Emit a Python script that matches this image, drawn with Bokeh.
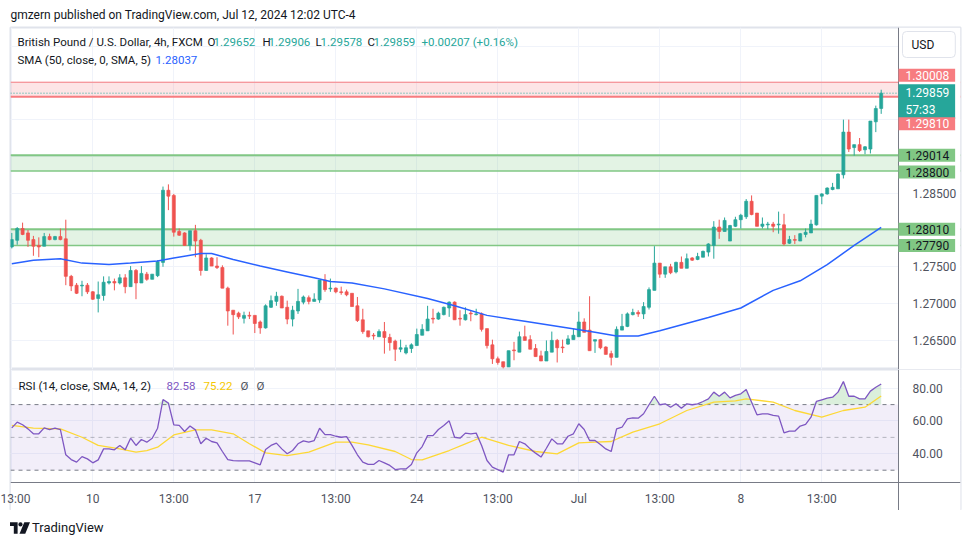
import numpy as np
from bokeh.plotting import figure
from bokeh.layouts import column
from bokeh.models import (Range1d, FixedTicker, NumeralTickFormatter, BoxAnnotation,
                          Span, Label, ColumnDataSource, Div)
from bokeh.embed import file_html
from bokeh.resources import INLINE

# ---------------- data (GBPUSD 4h, FXCM) ----------------
opens = [1.2777, 1.2786, 1.2802, 1.2796, 1.2787, 1.2779, 1.2778, 1.2791, 1.2787, 1.2791,
         1.2788, 1.2737, 1.2725, 1.2724, 1.2725, 1.2716, 1.2707, 1.2711, 1.2728, 1.2730,
         1.2728, 1.2735, 1.2723, 1.2745, 1.2728, 1.2740, 1.2733, 1.2738, 1.2756, 1.2854,
         1.2847, 1.2798, 1.2796, 1.2779, 1.2799, 1.2786, 1.2745, 1.2762, 1.2751, 1.2749,
         1.2721, 1.2691, 1.2687, 1.2680, 1.2684, 1.2684, 1.2675, 1.2667, 1.2695, 1.2703,
         1.2710, 1.2695, 1.2679, 1.2690, 1.2702, 1.2708, 1.2703, 1.2705, 1.2732, 1.2720,
         1.2721, 1.2716, 1.2716, 1.2714, 1.2697, 1.2678, 1.2663, 1.2657, 1.2655, 1.2662,
         1.2654, 1.2649, 1.2638, 1.2633, 1.2639, 1.2643, 1.2657, 1.2663, 1.2680, 1.2679,
         1.2685, 1.2694, 1.2702, 1.2680, 1.2678, 1.2687, 1.2685, 1.2686, 1.2666, 1.2644,
         1.2625, 1.2621, 1.2614, 1.2637, 1.2634, 1.2655, 1.2651, 1.2639, 1.2629, 1.2622,
         1.2634, 1.2650, 1.2641, 1.2645, 1.2651, 1.2655, 1.2675, 1.2664, 1.2649, 1.2651,
         1.2641, 1.2632, 1.2627, 1.2664, 1.2669, 1.2685, 1.2688, 1.2686, 1.2695, 1.2718,
         1.2755, 1.2740, 1.2750, 1.2743, 1.2756, 1.2748, 1.2762, 1.2760, 1.2763, 1.2770,
         1.2779, 1.2804, 1.2798, 1.2785, 1.2805, 1.2814, 1.2818, 1.2839, 1.2823, 1.2805,
         1.2807, 1.2808, 1.2807, 1.2807, 1.2782, 1.2787, 1.2785, 1.2794, 1.2796, 1.2807,
         1.2846, 1.2849, 1.2855, 1.2856, 1.2875, 1.2933, 1.2912, 1.2916, 1.2909, 1.2910,
         1.2947, 1.29652]
highs = [1.2796, 1.2804, 1.2810, 1.2800, 1.2792, 1.2790, 1.2796, 1.2795, 1.2792, 1.2802,
         1.2814, 1.2739, 1.2728, 1.2731, 1.2728, 1.2717, 1.2730, 1.2737, 1.2737, 1.2734,
         1.2740, 1.2740, 1.2751, 1.2747, 1.2751, 1.2743, 1.2740, 1.2759, 1.2859, 1.2862,
         1.2849, 1.2802, 1.2797, 1.2799, 1.2807, 1.2788, 1.2767, 1.2763, 1.2763, 1.2752,
         1.2723, 1.2691, 1.2689, 1.2689, 1.2689, 1.2684, 1.2677, 1.2699, 1.2711, 1.2716,
         1.2711, 1.2704, 1.2697, 1.2720, 1.2711, 1.2711, 1.2714, 1.2732, 1.2740, 1.2734,
         1.2722, 1.2723, 1.2719, 1.2714, 1.2709, 1.2693, 1.2663, 1.2660, 1.2665, 1.2675,
         1.2659, 1.2651, 1.2651, 1.2644, 1.2646, 1.2666, 1.2672, 1.2697, 1.2693, 1.2689,
         1.2696, 1.2703, 1.2703, 1.2691, 1.2695, 1.2690, 1.2693, 1.2688, 1.2666, 1.2651,
         1.2628, 1.2621, 1.2636, 1.2648, 1.2662, 1.2670, 1.2657, 1.2645, 1.2636, 1.2650,
         1.2662, 1.2652, 1.2651, 1.2657, 1.2666, 1.2689, 1.2680, 1.2710, 1.2651, 1.2652,
         1.2642, 1.2636, 1.2669, 1.2686, 1.2688, 1.2693, 1.2691, 1.2702, 1.2722, 1.2778,
         1.2755, 1.2750, 1.2754, 1.2757, 1.2764, 1.2768, 1.2763, 1.2769, 1.2772, 1.2782,
         1.2812, 1.2814, 1.2817, 1.2807, 1.2818, 1.2822, 1.2842, 1.2847, 1.2823, 1.2817,
         1.2811, 1.2811, 1.2825, 1.2822, 1.2792, 1.2793, 1.2796, 1.2802, 1.2814, 1.2847,
         1.2850, 1.2858, 1.2864, 1.2877, 1.2950, 1.2950, 1.2916, 1.2925, 1.2914, 1.2948,
         1.2969, 1.29906]
lows = [1.2775, 1.2780, 1.2793, 1.2777, 1.2765, 1.2763, 1.2778, 1.2786, 1.2786, 1.2786,
        1.2725, 1.2717, 1.2713, 1.2710, 1.2713, 1.2705, 1.2688, 1.2704, 1.2726, 1.2718,
        1.2726, 1.2714, 1.2723, 1.2706, 1.2728, 1.2731, 1.2733, 1.2736, 1.2750, 1.2827,
        1.2791, 1.2792, 1.2779, 1.2772, 1.2763, 1.2738, 1.2745, 1.2751, 1.2747, 1.2721,
        1.2670, 1.2658, 1.2679, 1.2673, 1.2679, 1.2660, 1.2659, 1.2666, 1.2694, 1.2697,
        1.2694, 1.2672, 1.2669, 1.2686, 1.2699, 1.2699, 1.2703, 1.2701, 1.2716, 1.2716,
        1.2714, 1.2712, 1.2710, 1.2696, 1.2675, 1.2659, 1.2654, 1.2651, 1.2655, 1.2632,
        1.2636, 1.2622, 1.2634, 1.2631, 1.2633, 1.2643, 1.2657, 1.2663, 1.2673, 1.2678,
        1.2684, 1.2682, 1.2678, 1.2670, 1.2677, 1.2676, 1.2684, 1.2662, 1.2639, 1.2618,
        1.2617, 1.2612, 1.2614, 1.2623, 1.2634, 1.2650, 1.2638, 1.2628, 1.2622, 1.2622,
        1.2634, 1.2620, 1.2633, 1.2644, 1.2651, 1.2655, 1.2661, 1.2636, 1.2633, 1.2638,
        1.2631, 1.2616, 1.2627, 1.2664, 1.2668, 1.2684, 1.2682, 1.2679, 1.2692, 1.2718,
        1.2735, 1.2735, 1.2740, 1.2741, 1.2748, 1.2748, 1.2758, 1.2759, 1.2763, 1.2764,
        1.2761, 1.2788, 1.2798, 1.2785, 1.2804, 1.2802, 1.2815, 1.2820, 1.2805, 1.2802,
        1.2801, 1.2797, 1.2795, 1.2779, 1.2781, 1.2781, 1.2785, 1.2790, 1.2796, 1.2806,
        1.2835, 1.2848, 1.2854, 1.2856, 1.2870, 1.2906, 1.2901, 1.2906, 1.2903, 1.2904,
        1.2933, 1.29578]
closes = [1.2787, 1.2802, 1.2794, 1.2786, 1.2778, 1.2777, 1.2791, 1.2787, 1.2791, 1.2787,
          1.2737, 1.2724, 1.2714, 1.2725, 1.2716, 1.2706, 1.2712, 1.2729, 1.2730, 1.2728,
          1.2735, 1.2723, 1.2745, 1.2728, 1.2741, 1.2733, 1.2740, 1.2757, 1.2854, 1.2846,
          1.2797, 1.2793, 1.2779, 1.2799, 1.2785, 1.2745, 1.2762, 1.2751, 1.2749, 1.2721,
          1.2690, 1.2685, 1.2682, 1.2684, 1.2683, 1.2673, 1.2667, 1.2697, 1.2704, 1.2710,
          1.2694, 1.2679, 1.2691, 1.2703, 1.2709, 1.2703, 1.2706, 1.2732, 1.2719, 1.2721,
          1.2716, 1.2715, 1.2712, 1.2696, 1.2677, 1.2662, 1.2655, 1.2656, 1.2662, 1.2654,
          1.2647, 1.2638, 1.2640, 1.2640, 1.2644, 1.2658, 1.2665, 1.2679, 1.2679, 1.2687,
          1.2695, 1.2702, 1.2678, 1.2679, 1.2685, 1.2686, 1.2686, 1.2665, 1.2643, 1.2625,
          1.2620, 1.2614, 1.2636, 1.2636, 1.2655, 1.2650, 1.2638, 1.2628, 1.2622, 1.2635,
          1.2650, 1.2640, 1.2640, 1.2652, 1.2657, 1.2675, 1.2661, 1.2636, 1.2651, 1.2640,
          1.2631, 1.2627, 1.2665, 1.2669, 1.2686, 1.2688, 1.2686, 1.2696, 1.2719, 1.2755,
          1.2740, 1.2750, 1.2742, 1.2756, 1.2748, 1.2761, 1.2759, 1.2764, 1.2771, 1.2781,
          1.2804, 1.2798, 1.2813, 1.2806, 1.2814, 1.2820, 1.2839, 1.2821, 1.2805, 1.2808,
          1.2808, 1.2805, 1.2808, 1.2781, 1.2787, 1.2786, 1.2795, 1.2797, 1.2808, 1.2847,
          1.2849, 1.2857, 1.2858, 1.2876, 1.2933, 1.2910, 1.2916, 1.2908, 1.2913, 1.2948,
          1.2965, 1.29859]

# SMA(50) read at sample bars
sma_bars = [0, 4, 9, 13, 18, 22, 27, 30, 35, 37, 41, 46, 51, 56, 59, 63, 69, 77, 82, 88,
            95, 103, 108, 112, 116, 120, 129, 135, 141, 146, 151, 156, 161]
sma_vals = [1.2754, 1.2759, 1.2761, 1.2755, 1.2753, 1.2755, 1.2758, 1.2762, 1.2768, 1.2768,
            1.2760, 1.2751, 1.2743, 1.2735, 1.2730, 1.2728, 1.2720, 1.2707, 1.2697, 1.2684,
            1.2676, 1.2667, 1.2661, 1.2656, 1.2656, 1.2663, 1.2681, 1.2694, 1.2718, 1.2731,
            1.2753, 1.2779, 1.28037]

rsi = [55.8, 59.3, 57.7, 55.2, 52.2, 52.2, 55.8, 54.8, 55.6, 54.8,
       39.4, 36.5, 34.9, 38.3, 36.9, 34.5, 36.3, 43.0, 43.0, 42.4,
       45.1, 42.4, 49.5, 45.1, 48.7, 47.1, 49.5, 55.6, 73.1, 70.9,
       57.7, 57.3, 53.6, 56.9, 54.6, 46.1, 49.5, 47.5, 46.7, 41.4,
       36.5, 35.9, 35.7, 35.7, 35.7, 34.5, 33.3, 42.6, 45.1, 46.5,
       43.0, 40.0, 42.0, 46.1, 47.9, 47.1, 48.1, 55.6, 51.7, 51.7,
       50.7, 50.1, 50.5, 45.1, 39.4, 34.9, 33.5, 33.5, 35.9, 34.5,
       32.9, 30.4, 30.8, 30.8, 33.5, 40.6, 44.4, 51.1, 51.1, 54.8,
       57.3, 60.1, 50.1, 49.5, 52.6, 52.2, 52.6, 45.1, 35.9, 31.9,
       30.4, 28.8, 39.4, 39.4, 47.5, 46.1, 43.0, 40.4, 38.0, 43.4,
       49.1, 46.1, 46.1, 50.7, 52.2, 58.3, 54.8, 48.1, 48.1, 45.7,
       43.0, 41.4, 55.2, 56.2, 61.3, 61.9, 61.7, 64.4, 69.9, 75.1,
       69.9, 70.5, 68.4, 70.5, 67.8, 70.5, 69.9, 70.5, 71.9, 73.5,
       77.6, 75.1, 77.6, 74.1, 75.6, 76.6, 79.2, 71.5, 63.8, 64.4,
       64.4, 63.4, 63.0, 52.8, 53.8, 53.8, 56.9, 57.9, 62.3, 71.9,
       72.9, 73.9, 74.5, 77.6, 84.1, 75.1, 75.1, 73.5, 73.5, 78.2,
       80.6, 82.58]

rsi_ma_bars = [0, 4, 9, 13, 16, 20, 23, 25, 27, 30, 34, 37, 41, 44, 47, 51, 55, 60, 63, 66,
               71, 74, 76, 81, 84, 87, 92, 97, 101, 105, 108, 111, 115, 120, 125, 130, 134,
               136, 141, 145, 150, 154, 158, 161]
rsi_ma_vals = [57.3, 55.6, 55.2, 50.1, 45.1, 43.0, 41.0, 42.0, 44.0, 51.5, 54.6, 54.6, 52.2,
               46.1, 40.6, 38.9, 41.0, 47.1, 47.1, 45.5, 41.4, 36.5, 36.3, 42.0, 46.1, 50.1,
               45.1, 41.4, 40.0, 46.7, 47.1, 47.5, 53.2, 58.3, 66.4, 71.5, 72.3, 73.5, 71.5,
               66.4, 62.3, 66.4, 68.4, 75.22]

x_tick_bars = [0, 15, 30, 45, 60, 75, 90, 105, 120, 135, 150]
x_tick_labels = ["13:00", "10", "13:00", "17", "13:00", "24", "13:00", "Jul", "13:00", "8", "13:00"]
price_ticks = [1.265, 1.270, 1.275, 1.285]
price_grid = [1.265, 1.270, 1.275, 1.280, 1.285, 1.290, 1.295, 1.300, 1.305]
rsi_ticks = [40, 60, 80]
rsi_levels = [70, 50, 30]

resist_zone = (1.29810, 1.30008)
support_zones = [(1.28800, 1.29014), (1.27790, 1.28010)]
last_price = 1.29859
sma_last = 1.28037
countdown = "57:33"

# ---------------- styling / layout constants ----------------
FONT = "Roboto"
UP, DOWN = "#26a69a", "#ef5350"
GRID = "#f0f3fa"
TXT = "#131722"
AX = "#787b86"
BORDER = "#e0e3eb"
RED_Z, GREEN_Z = "#f77c80", "#81c784"

X_START, X_END = -0.2407, 175.685      # pane spans the chart and the price scale
SCALE_EDGE = 164.2037                  # bar position of the price-scale border
RSI_AXIS_EDGE = 22.5                   # RSI value at the time-axis border

n = len(opens)
bars = np.arange(n)
o, h, l, c = map(np.array, (opens, highs, lows, closes))
colors = [UP if cc >= oo else DOWN for oo, cc in zip(o, c)]
src = ColumnDataSource(dict(x=bars, high=h, low=l, top=np.maximum(o, c),
                            bottom=np.minimum(o, c), color=colors))

xr = Range1d(X_START, X_END)

p = figure(width=970, height=369, x_range=xr, y_range=Range1d(1.261046, 1.307514),
           output_backend="svg", toolbar_location=None, x_axis_location=None,
           y_axis_location="right", min_border_left=10, min_border_right=10,
           min_border_top=27, min_border_bottom=0,
           title="gmzern published on TradingView.com, Jul 12, 2024 12:02 UTC-4")
p.title.text_font = FONT
p.title.text_font_size = "12px"
p.title.text_font_style = "normal"
p.title.text_color = TXT
p.title.align = "left"
p.title.standoff = 11
p.background_fill_color = "white"
p.border_fill_color = "white"
p.outline_line_color = BORDER
p.outline_line_width = 2

p.xgrid.ticker = FixedTicker(ticks=x_tick_bars)
p.ygrid.ticker = FixedTicker(ticks=price_grid)
p.grid.grid_line_color = GRID
p.grid.grid_line_width = 1

ya = p.yaxis[0]
ya.ticker = FixedTicker(ticks=price_ticks)
ya.formatter = NumeralTickFormatter(format="0.00000")

# zones (underlay, so the scale area mask hides their right end)
lo, hi = resist_zone
p.add_layout(BoxAnnotation(bottom=lo, top=hi, fill_color=RED_Z, fill_alpha=0.2,
                           line_alpha=0, level="underlay"))
p.add_layout(Span(location=hi, dimension="width", line_color=RED_Z, line_width=1,
                  level="underlay"))
p.add_layout(Span(location=lo, dimension="width", line_color=RED_Z, line_width=2,
                  level="underlay"))
for lo, hi in support_zones:
    p.add_layout(BoxAnnotation(bottom=lo, top=hi, fill_color=GREEN_Z, fill_alpha=0.22,
                               line_alpha=0, level="underlay"))
    p.add_layout(Span(location=hi, dimension="width", line_color=GREEN_Z, line_width=2,
                      level="underlay"))
    p.add_layout(Span(location=lo, dimension="width", line_color=GREEN_Z, line_width=1.5,
                      level="underlay"))
p.add_layout(Span(location=last_price, dimension="width", line_color=UP, line_width=1,
                  line_dash="1 2", level="underlay"))
# price scale background
p.add_layout(BoxAnnotation(left=SCALE_EDGE, fill_color="white", fill_alpha=1,
                           line_alpha=0, level="underlay"))

p.segment(x0="x", y0="high", x1="x", y1="low", line_color="color", line_width=1, source=src)
p.vbar(x="x", width=0.56, top="top", bottom="bottom", fill_color="color",
       line_color="color", line_width=0.7, source=src)
p.line(sma_bars, sma_vals, line_color="#2962ff", line_width=1.5)
p.add_layout(Span(location=SCALE_EDGE, dimension="height", line_color=AX, line_width=1))

# ---------------- RSI pane ----------------
r = figure(width=970, height=141, x_range=xr, y_range=Range1d(5.43, 91.4),
           output_backend="svg", toolbar_location=None, y_axis_location="right",
           min_border_left=10, min_border_right=10, min_border_top=0, min_border_bottom=0)
r.background_fill_color = "white"
r.border_fill_color = "white"
r.outline_line_color = BORDER
r.outline_line_width = 2
r.xgrid.ticker = FixedTicker(ticks=x_tick_bars)
r.ygrid.ticker = FixedTicker(ticks=rsi_ticks)
r.grid.grid_line_color = GRID

r.add_layout(BoxAnnotation(bottom=rsi_levels[2], top=rsi_levels[0], fill_color="#7e57c2",
                           fill_alpha=0.1, line_alpha=0, level="underlay"))
for lv, a in zip(rsi_levels, [1.0, 0.5, 1.0]):
    r.add_layout(Span(location=lv, dimension="width", line_color=AX, line_alpha=a,
                      line_width=1, line_dash="4 4", level="underlay"))
r.add_layout(BoxAnnotation(left=SCALE_EDGE, fill_color="white", fill_alpha=1,
                           line_alpha=0, level="underlay"))
r.add_layout(BoxAnnotation(top=RSI_AXIS_EDGE, fill_color="white", fill_alpha=1,
                           line_alpha=0, level="underlay"))
rsi_arr = np.array(rsi)
r.varea(x=bars, y1=np.full(n, 70.0), y2=np.maximum(rsi_arr, 70.0), fill_color="#4caf50",
        fill_alpha=0.2)
r.line(rsi_ma_bars, rsi_ma_vals, line_color="#fdd835", line_width=1.3)
r.line(bars, rsi_arr, line_color="#7e57c2", line_width=1.3)
r.add_layout(Span(location=SCALE_EDGE, dimension="height", line_color=AX, line_width=1))
r.add_layout(Span(location=RSI_AXIS_EDGE, dimension="width", line_color=AX, line_width=1))

ra = r.yaxis[0]
ra.ticker = FixedTicker(ticks=rsi_ticks)
ra.formatter = NumeralTickFormatter(format="0.00")

xa = r.xaxis[0]
xa.ticker = FixedTicker(ticks=x_tick_bars)
xa.major_label_overrides = {b: t for b, t in zip(x_tick_bars, x_tick_labels)}

for ax in (ya, ra, xa):
    ax.axis_line_color = None
    ax.major_tick_line_color = None
    ax.minor_tick_line_color = None
    ax.major_label_text_font = FONT
    ax.major_label_text_font_size = "12px"
    ax.major_label_text_color = "#50535e"
ya.major_label_standoff = -54
ra.major_label_standoff = -54
xa.major_label_standoff = -25


def txt(fig, x, y, text, color=TXT, size="11.5px", **kw):
    fig.add_layout(Label(x=x, y=y, x_units="screen", y_units="screen", text=text,
                         text_color=color, text_font=FONT, text_font_size=size,
                         text_baseline="middle", **kw))


# legends (positions in px relative to pane)
txt(p, 7, 328, "British Pound / U.S. Dollar, 4h, FXCM")
for lx, letter, vx, val in [(197, "O", 203, opens[-1]), (252, "H", 258, highs[-1]),
                            (305, "L", 310, lows[-1]), (357, "C", 363, closes[-1])]:
    txt(p, lx, 328, letter)
    txt(p, vx, 328, f"{val:.5f}", color=UP)
chg = closes[-1] - opens[-1]
txt(p, 411, 328, f"{chg:+.5f} ({chg / opens[-1] * 100:+.2f}%)", color=UP)
txt(p, 7, 310, "SMA (50, close, 0, SMA, 5)")
txt(p, 145, 310, f"{sma_last:.5f}", color="#2962ff")

txt(r, 8, 125, "RSI (14, close, SMA, 14, 2)")
txt(r, 156, 125, f"{rsi[-1]:.2f}", color="#7e57c2")
txt(r, 193, 125, f"{rsi_ma_vals[-1]:.2f}", color="#f5c800")
txt(r, 230, 125, "Ø", color="#50535e")
txt(r, 246, 125, "Ø", color="#50535e")

# USD button
p.add_layout(Label(x=892, y=325, x_units="screen", y_units="screen", text="USD",
                   text_font=FONT, text_font_size="12px", text_color=TXT,
                   text_baseline="middle", background_fill_color="white",
                   border_line_color=BORDER, border_radius=4,
                   padding=dict(left=9, right=21, top=6, bottom=6)))


# price-scale labels
def plabel(y, text, bg, fg, yoff=0, baseline="middle"):
    p.add_layout(Label(x=888, y=y, x_units="screen", y_units="data", text=text,
                       y_offset=yoff, text_font=FONT, text_font_size="12px",
                       text_color=fg, text_baseline=baseline, background_fill_color=bg,
                       padding=dict(left=7, right=6, top=2, bottom=2)))


plabel(resist_zone[1], f"{resist_zone[1]:.5f}", RED_Z, "white", yoff=7)
plabel(last_price, f"{last_price:.5f}\n{countdown}", UP, "white", yoff=9, baseline="top")
plabel(resist_zone[0], f"{resist_zone[0]:.5f}", RED_Z, "white", yoff=-27)
for (lo, hi), off in zip(support_zones, [(0, -1), (0, 0)]):
    plabel(hi, f"{hi:.5f}", GREEN_Z, TXT, yoff=off[0])
    plabel(lo, f"{lo:.5f}", GREEN_Z, TXT, yoff=off[1])

logo = Div(text=('<span style="display:inline-flex;align-items:center;gap:2px">'
                 '<svg width="20" height="12" viewBox="0 0 21 12">'
                 '<path d="M0 0h8v12H4V4H0z" fill="#131722"/>'
                 '<circle cx="11" cy="2.2" r="2.2" fill="#131722"/>'
                 '<path d="M15 0h6l-5 12h-6z" fill="#131722"/></svg>'
                 '<span>TradingView</span></span>'),
           width=970, height=35, margin=(0, 0, 0, 0),
           styles={"font-family": "Roboto", "font-size": "13px", "color": "#131722",
                   "padding-left": "10px", "padding-top": "9px"})

layout = column(p, r, logo, spacing=0)
open("out.html", "w").write(file_html(layout, INLINE))
